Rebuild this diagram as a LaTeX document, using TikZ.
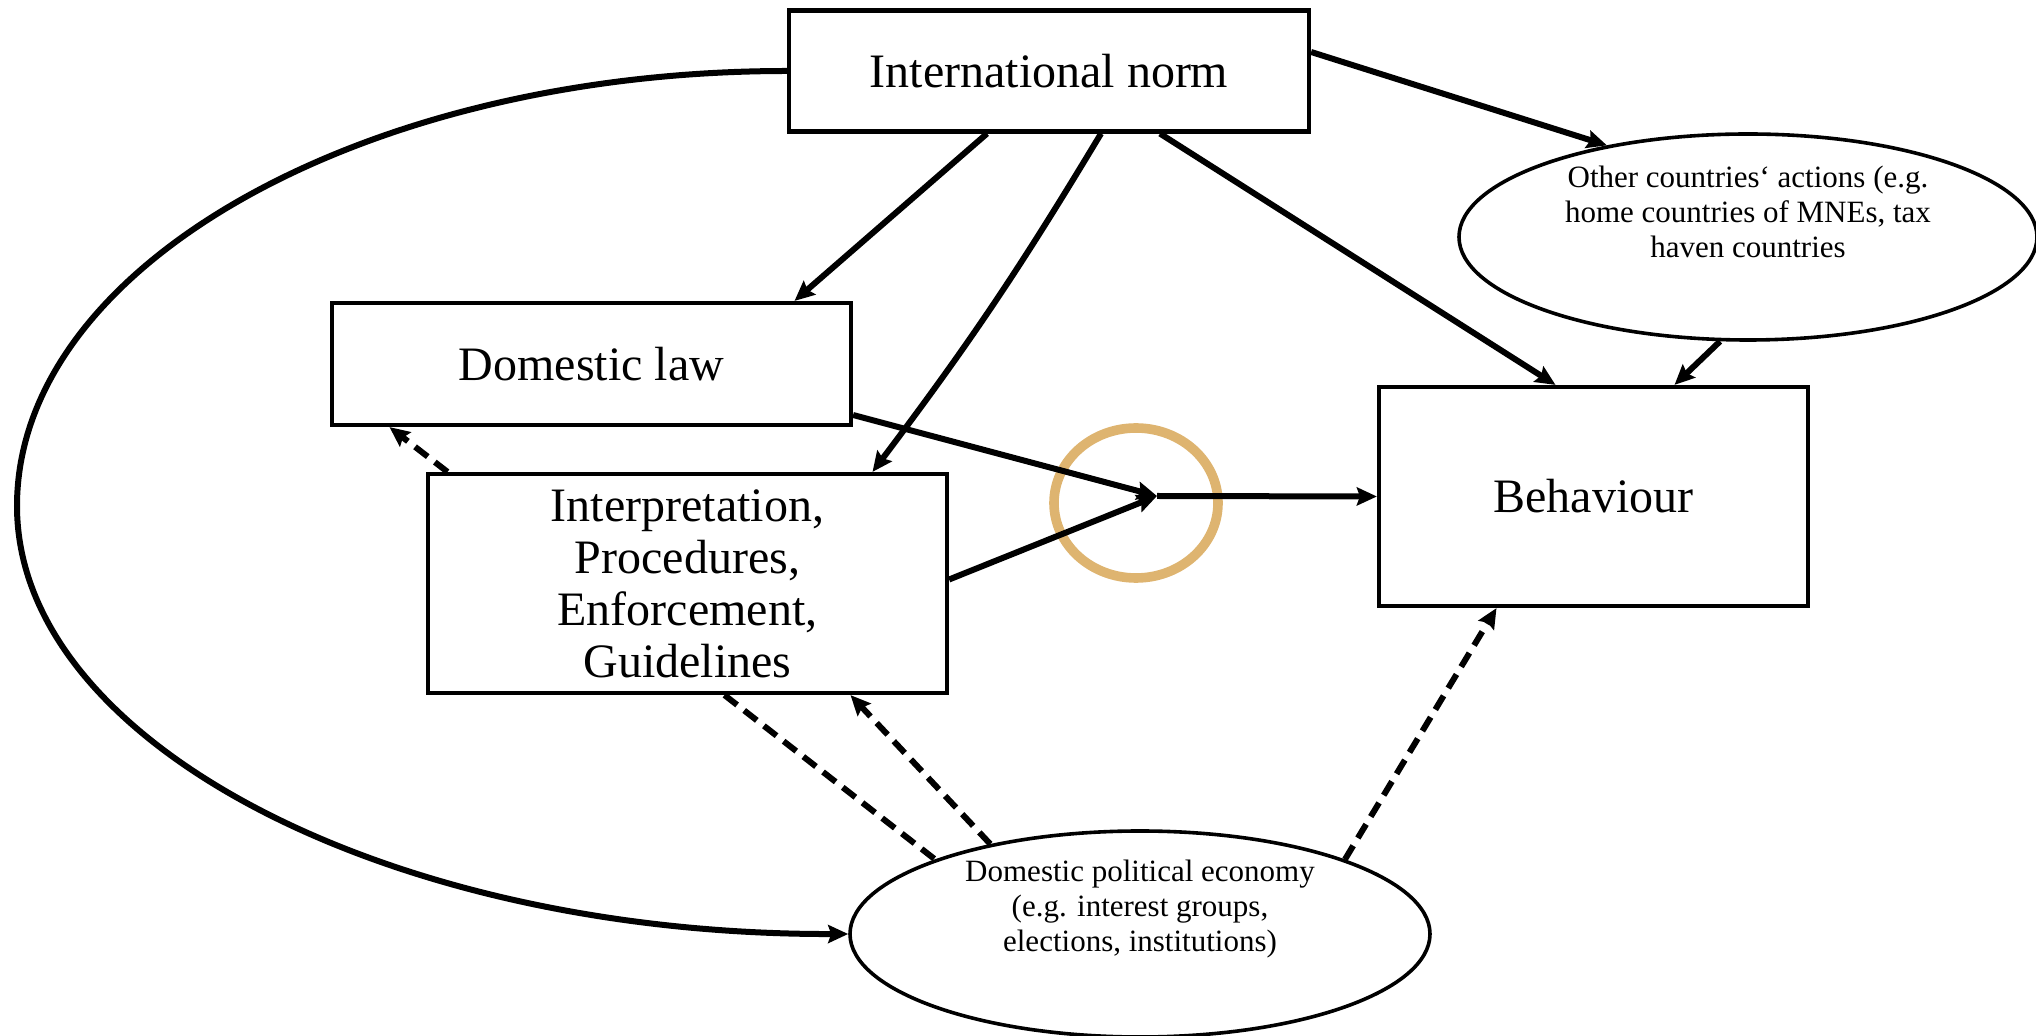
\documentclass[tikz,border=0pt]{standalone}
\usepackage{fontspec}
\setmainfont{Liberation Serif}
\usetikzlibrary{arrows.meta,shapes.geometric}
\definecolor{ringtan}{RGB}{222,180,112}
\tikzset{
  bigbox/.style={draw=black, line width=2.1pt, rectangle, inner sep=0pt, align=center,
    font=\fontsize{24}{26}\selectfont},
  oval/.style={draw=black, line width=1.8pt, ellipse, inner sep=0pt},
  smalltext/.style={align=center, inner sep=0pt, font=\fontsize{15.5}{17.5}\selectfont},
  arr/.style={line width=3pt, -{Stealth[length=10pt,width=9pt,inset=1.5pt]}},
  darr/.style={line width=3pt, dash pattern=on 8pt off 4.5pt, -{Stealth[length=10pt,width=9pt,inset=1.5pt]}},
  dline/.style={line width=3pt, dash pattern=on 8pt off 4.5pt},
  ring/.style={draw=ringtan, line width=4.8pt, ellipse, inner sep=0pt, minimum width=82pt, minimum height=75pt}
}
\begin{document}
\begin{tikzpicture}[x=0.5pt, y=-0.5pt]
\useasboundingbox (0,0) rectangle (2036,1036);
% nodes
\node[bigbox, minimum width=260pt, minimum height=60.5pt] (intl) at (1049,71) {International norm};
\node[bigbox, minimum width=259.5pt, minimum height=61pt] (domlaw) at (591.5,364) {Domestic law};
\node[bigbox, minimum width=259.5pt, minimum height=109.5pt] (interp) at (687.5,583.5)
  {Interpretation,\\Procedures,\\Enforcement,\\Guidelines};
\node[bigbox, minimum width=214.5pt, minimum height=109.5pt] (behav) at (1593.5,496.5) {Behaviour};
\node[oval, minimum width=289pt, minimum height=103pt] (other) at (1748,237) {};
\node[smalltext] (othertxt) at (1748,212) {Other countries‘ actions (e.g.\\home countries of MNEs, tax\\haven countries};
\node[oval, minimum width=290pt, minimum height=103pt] (dpe) at (1140,934) {};
\node[smalltext] (dpetxt) at (1140,909) {Domestic political economy\\(e.g. interest groups,\\elections, institutions)};
\node[ring] (ring) at (1136,503) {};
\coordinate (tip) at (1157,496);
\coordinate (farleft) at (17,506);
% solid connectors
\draw[arr] ([xshift=-31pt]intl.south) -- ([xshift=101.5pt]domlaw.north);
\draw[arr] ([xshift=26pt]intl.south) to[bend left=3] ([xshift=92.5pt]interp.north);
\draw[arr] ([xshift=55.5pt]intl.south) -- ([xshift=-19pt]behav.north);
\draw[arr] ([yshift=9.5pt]intl.east) -- (other.147);
\draw[arr] (other.255) -- ([xshift=40.5pt]behav.north);
\draw[arr] ([yshift=-25.5pt]domlaw.east) -- (tip);
\draw[arr] ([yshift=2pt]interp.east) -- (tip);
\draw[arr] (tip) -- (behav.west);
% dashed connectors
\draw[darr] ([xshift=-120pt]interp.north) -- ([xshift=-101pt]domlaw.south);
\draw[dline] ([xshift=18.5pt]interp.south) -- (dpe.160);
\draw[darr] (dpe.149) -- ([xshift=81.5pt]interp.south);
\draw[darr] (dpe.20) -- ([xshift=-48.5pt]behav.south);
% big curve
\draw[arr] (intl.west) .. controls (363,71) and (17,266) .. (farleft)
  .. controls (17,743) and (389,935) .. (dpe.west);
\end{tikzpicture}
\end{document}
